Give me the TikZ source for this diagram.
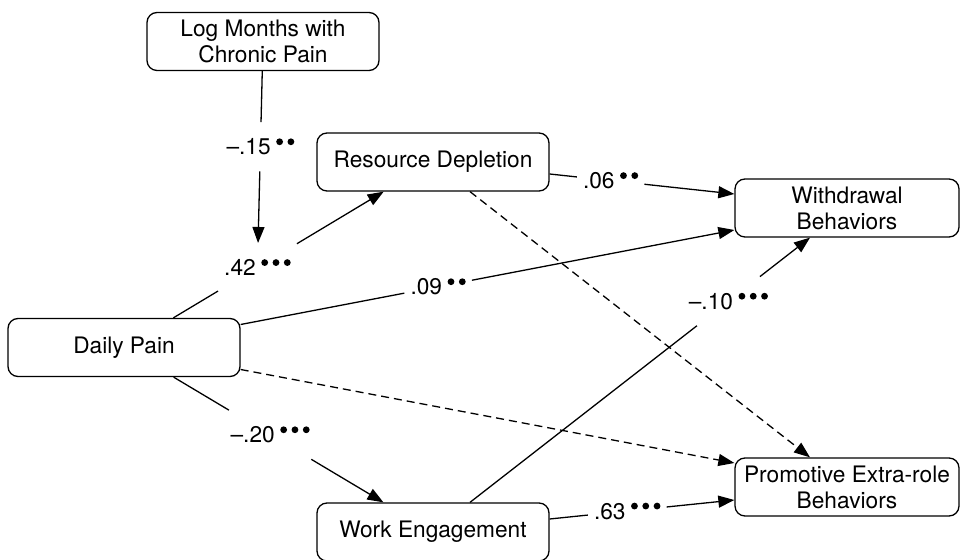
\documentclass[tikz,border=0pt]{standalone}
\usepackage{fontspec}
\setmainfont{TeX Gyre Heros}
\usetikzlibrary{arrows.meta}
\newcommand\sigdot{\tikz[baseline=-13pt]\fill (0,0) circle (3.4pt);}
\newcommand\twodots{\kern5.5pt\sigdot\kern4.5pt\sigdot}
\newcommand\threedots{\kern5.5pt\sigdot\kern4.5pt\sigdot\kern4.5pt\sigdot}
\begin{document}
\begin{tikzpicture}[x=1pt,y=1pt,line width=1.3pt,
    box/.style={draw,rounded corners=10pt,minimum width=232pt,minimum height=58pt,
      align=center,font=\fontsize{22.7}{26}\selectfont},
    coef/.style={inner xsep=6pt,inner ysep=16pt,font=\fontsize{22.7}{26}\selectfont},
    tip/.style={-{Triangle[length=16pt,width=12pt]}},
    dashline/.style={dash pattern=on 8pt off 5pt}]
  \useasboundingbox (0,0) rectangle (960,559);
  \node[box] (logm) at (263,517.5) {Log Months with\\Chronic Pain};
  \node[box] (depl) at (433,397) {Resource Depletion};
  \node[box] (dpain) at (124,211.5) {Daily Pain};
  \node[box] (engage) at (433,27) {Work Engagement};
  \node[box,minimum width=224pt] (withd) at (847,351) {Withdrawal\\Behaviors};
  \node[box,minimum width=224pt] (promo) at (847,72) {Promotive Extra-role\\Behaviors};
  % daily pain -> resource depletion, moderated by log months
  \path (dpain) -- node[coef,pos=0.4] (l42) {.42\threedots} (depl);
  \draw (dpain) -- (l42);
  \draw[tip] (l42) -- (depl);
  \path (logm) -- node[coef,pos=0.44] (l15) {\textendash.15\twodots} (l42);
  \draw (logm) -- (l15);
  \draw[tip] (l15) -- (l42);
  % daily pain -> work engagement
  \path (dpain) -- node[coef,pos=0.46] (l20) {\textendash.20\threedots} (engage);
  \draw (dpain) -- (l20);
  \draw[tip] (l20) -- (engage);
  % daily pain -> outcomes
  \path ([yshift=23pt]dpain.east) -- node[coef,pos=0.4] (l09) {.09\twodots}
        ([yshift=-22pt]withd.west);
  \draw ([yshift=23pt]dpain.east) -- (l09);
  \draw[tip] (l09) -- ([yshift=-22pt]withd.west);
  \draw[tip,dashline] ([yshift=-22pt]dpain.east) -- ([yshift=24pt]promo.west);
  % resource depletion -> outcomes
  \path ([yshift=-12pt]depl.east) -- node[coef,pos=0.33] (l06) {.06\twodots}
        ([yshift=14pt]withd.west);
  \draw ([yshift=-12pt]depl.east) -- (l06);
  \draw[tip] (l06) -- ([yshift=14pt]withd.west);
  \draw[tip,dashline] ([xshift=37pt]depl.south) -- ([xshift=-37pt]promo.north);
  % work engagement -> outcomes
  \path ([xshift=37pt]engage.north) -- node[coef,pos=0.76] (l10) {\textendash.10\threedots}
        ([xshift=-37pt]withd.south);
  \draw ([xshift=37pt]engage.north) -- (l10);
  \draw[tip] (l10) -- ([xshift=-37pt]withd.south);
  \path ([yshift=13pt]engage.east) -- node[coef,pos=0.42] (l63) {.63\threedots}
        ([yshift=-13pt]promo.west);
  \draw ([yshift=13pt]engage.east) -- (l63);
  \draw[tip] (l63) -- ([yshift=-13pt]promo.west);
\end{tikzpicture}
\end{document}
